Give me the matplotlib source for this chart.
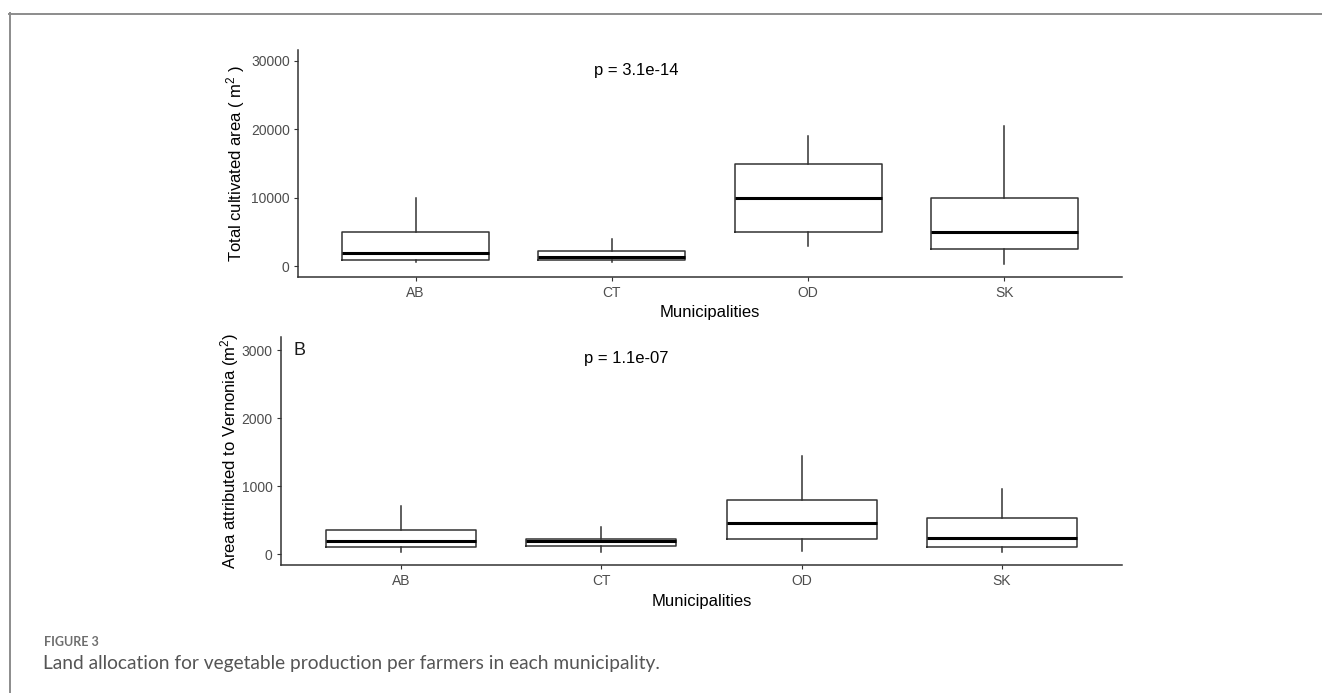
import matplotlib
matplotlib.use("Agg")
import matplotlib.pyplot as plt
from matplotlib.lines import Line2D

# ---- data ----
categories = ["AB", "CT", "OD", "SK"]

# Panel A: total cultivated area (m2)
a_whislo = [700, 600, 3000, 400]
a_q1 = [1000, 900, 5000, 2500]
a_med = [2000, 1400, 10000, 5000]
a_q3 = [5000, 2200, 15000, 10000]
a_whishi = [10000, 4000, 19000, 20500]
a_ticks = [0, 10000, 20000, 30000]
a_p = "p = 3.1e-14"

# Panel B: area attributed to Vernonia (m2)
b_whislo = [30, 30, 50, 30]
b_q1 = [100, 120, 230, 110]
b_med = [195, 190, 460, 240]
b_q3 = [350, 230, 800, 540]
b_whishi = [710, 405, 1450, 955]
b_ticks = [0, 1000, 2000, 3000]
b_p = "p = 1.1e-07"

plt.rcParams["font.family"] = ["Liberation Sans", "DejaVu Sans"]
plt.rcParams["mathtext.fontset"] = "custom"
plt.rcParams["mathtext.rm"] = "Liberation Sans"
plt.rcParams["mathtext.default"] = "regular"

W, H = 1322, 693
fig = plt.figure(figsize=(W / 100, H / 100), dpi=100)


def px_axes(left, top, right, bottom):
    return fig.add_axes([left / W, 1 - bottom / H, (right - left) / W, (bottom - top) / H])


def draw_panel(ax, whislo, q1, med, q3, whishi, ticks, ylim, ylabel, ylab_x, xlab_y, ptext, p_xy):
    stats = []
    for i, c in enumerate(categories):
        stats.append(dict(label=c, whislo=whislo[i], q1=q1[i], med=med[i], q3=q3[i],
                          whishi=whishi[i], fliers=[]))
    positions = list(range(1, len(categories) + 1))
    ax.bxp(stats, positions=positions, widths=0.75, showcaps=False, showfliers=False,
           patch_artist=False,
           boxprops=dict(color="#333333", linewidth=1.1),
           whiskerprops=dict(color="#333333", linewidth=1.1),
           medianprops=dict(color="black", linewidth=2.2))
    ax.set_xlim(0.4, len(categories) + 0.6)
    ax.set_ylim(*ylim)
    ax.set_yticks(ticks)
    ax.set_yticklabels([str(t) for t in ticks])
    ax.set_xticks(positions)
    ax.set_xticklabels(categories)
    for s in ["top", "right"]:
        ax.spines[s].set_visible(False)
    for s in ["left", "bottom"]:
        ax.spines[s].set_color("#333333")
        ax.spines[s].set_linewidth(1.1)
    ax.tick_params(axis="both", direction="out", length=3, width=0.8, color="#333333",
                   labelsize=10, labelcolor="#4d4d4d")
    ax.tick_params(axis="y", pad=3)
    ax.tick_params(axis="x", pad=4)
    ax.set_ylabel(ylabel, fontsize=12, color="black")
    ax.yaxis.set_label_coords(ylab_x, 0.5)
    ax.set_xlabel("Municipalities", fontsize=12, color="black")
    ax.xaxis.set_label_coords(0.5, xlab_y)
    ax.text(p_xy[0], p_xy[1], ptext, fontsize=12, ha="center", va="center", color="black")


axA = px_axes(298, 50, 1122, 276.7)
draw_panel(axA, a_whislo, a_q1, a_med, a_q3, a_whishi, a_ticks, (-1500, 31560),
           "Total cultivated area ( m$^{2}$ )", -0.062, -0.1255, a_p, (2.125, 28500))

axB = px_axes(281, 337, 1122, 564.7)
draw_panel(axB, b_whislo, b_q1, b_med, b_q3, b_whishi, b_ticks, (-153, 3191),
           "Area attributed to Vernonia (m$^{2}$)", -0.047, -0.127, b_p, (2.124, 2880))

fig.text(299.3 / W, 1 - 350.7 / H, "B", fontsize=13, ha="center", va="center", color="#1a1a1a")

# frame lines
fig.add_artist(Line2D([9 / W, 1], [1 - 13.5 / H, 1 - 13.5 / H], color="#8c8c8c", linewidth=1.4,
                      transform=fig.transFigure))
fig.add_artist(Line2D([9.8 / W, 9.8 / W], [1 - 13 / H, 0], color="#8c8c8c", linewidth=1.4,
                      transform=fig.transFigure))

# caption
fig.text(44 / W, 1 - 646 / H, "FIGURE 3", fontsize=9, fontweight="bold",
         family=["Lato", "DejaVu Sans"], color="#6e6e6e", ha="left", va="baseline")
fig.text(43 / W, 1 - 669 / H,
         "Land allocation for vegetable production per farmers in each municipality.",
         fontsize=13.75, family=["Lato", "DejaVu Sans"], color="#555555", ha="left", va="baseline")

fig.savefig("out.png", dpi=100, facecolor="white")
